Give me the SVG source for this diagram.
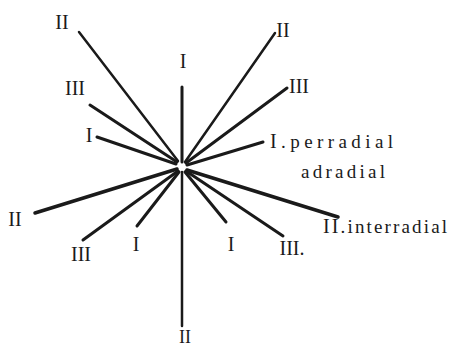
<svg xmlns="http://www.w3.org/2000/svg" width="450" height="348" viewBox="0 0 450 348">
<style>
.ray{stroke:#1a1a1a;stroke-width:3;stroke-linecap:round;fill:none}
.thin{stroke-width:2.5}
.num{font-family:"Liberation Serif","DejaVu Serif",serif;font-size:20px;fill:#1a1a1a;text-anchor:middle}
.word{font-family:"Liberation Serif","DejaVu Serif",serif;font-size:19px;fill:#1a1a1a}
</style>
<rect width="450" height="348" fill="#ffffff"/>
<g id="connectors">
<line class="ray" x1="182" y1="87" x2="182" y2="162"/>
<line class="ray thin" x1="182" y1="172" x2="182" y2="326"/>
<line class="ray thin" x1="79" y1="32" x2="178" y2="161"/>
<line class="ray" x1="90" y1="105" x2="177" y2="162"/>
<line class="ray" x1="97" y1="137" x2="176" y2="164"/>
<line class="ray thin" x1="275" y1="33" x2="185" y2="162"/>
<line class="ray" x1="287" y1="88" x2="186" y2="163"/>
<line class="ray" x1="263" y1="142" x2="187" y2="165"/>
<line class="ray" x1="338" y1="217" x2="187" y2="170" style="stroke-width:3.5"/>
<line class="ray" x1="283" y1="236" x2="186" y2="171"/>
<line class="ray" x1="226" y1="222" x2="185" y2="172"/>
<line class="ray" x1="137" y1="226" x2="179" y2="172"/>
<line class="ray" x1="83" y1="240" x2="178" y2="171"/>
<line class="ray" x1="35" y1="213" x2="177" y2="169" style="stroke-width:3.5"/>
</g>
<g id="n-top"><text class="num" x="183" y="68">I</text></g>
<g id="n-bottom"><text class="num" x="185" y="343" style="font-size:18px">II</text></g>
<g id="n-ul2"><text class="num" x="62" y="29">II</text></g>
<g id="n-ul3"><text class="num" x="75" y="95">III</text></g>
<g id="n-l1"><text class="num" x="89" y="142">I</text></g>
<g id="n-ur2"><text class="num" x="283" y="37">II</text></g>
<g id="n-ur3"><text class="num" x="299" y="93">III</text></g>
<g id="n-perradial"><text class="word" x="270" y="148" textLength="123" lengthAdjust="spacing"><tspan style="font-size:20px">I</tspan>.perradial</text></g>
<g id="n-adradial"><text class="word" x="301" y="178" textLength="84" lengthAdjust="spacing">adradial</text></g>
<g id="n-interradial"><text class="word" x="323" y="233" textLength="124" lengthAdjust="spacing"><tspan style="font-size:20px">II</tspan>.interradial</text></g>
<g id="n-lr3"><text class="num" x="292" y="255">III.</text></g>
<g id="n-lr1"><text class="num" x="231" y="251">I</text></g>
<g id="n-ll1"><text class="num" x="136" y="251">I</text></g>
<g id="n-ll3"><text class="num" x="81" y="261">III</text></g>
<g id="n-l2"><text class="num" x="15" y="226">II</text></g>
</svg>
